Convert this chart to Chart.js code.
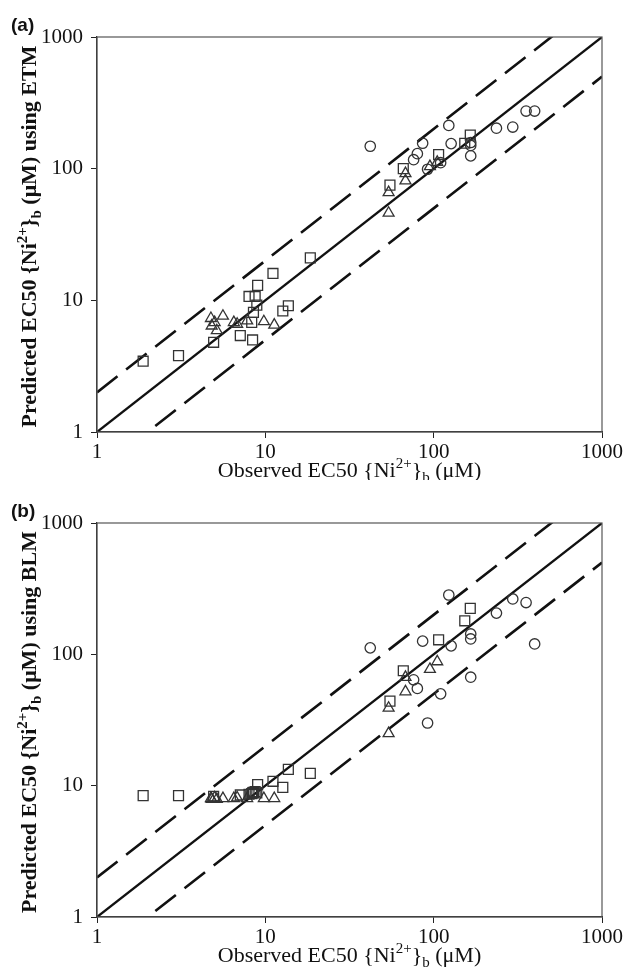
<!DOCTYPE html>
<html lang="en">
<head>
<meta charset="UTF-8">
<title>Observed vs predicted EC50 {Ni2+}b</title>
<script src="https://cdn.jsdelivr.net/npm/chart.js"></script>
<style>
  body { margin: 0; background: #fff; }
  .panel { position: absolute; left: 0; width: 626px; }
  #boxA { top: 0; height: 480px; }
  #boxB { top: 480px; height: 487px; }
</style>
</head>
<body>
<div class="panel" id="boxA"><canvas id="chartA" width="626" height="480"></canvas></div>
<div class="panel" id="boxB"><canvas id="chartB" width="626" height="487"></canvas></div>
<script>
  // axis ticks and the 1:1 / factor-of-2 reference lines
  const tickValues = [1, 10, 100, 1000];
  const lineX = [1, 1000];
  const band = 2;

  // observed EC50 (same for both panels), predicted by ETM (a) and BLM (b)
  const squareObs = [1.88, 3.05, 4.93, 7.1, 8.0, 8.3, 8.4, 8.5, 8.7, 8.9, 9.0, 11.1, 12.7, 13.7, 18.5, 55, 66, 107, 153, 165];
  const squareETM = [3.45, 3.8, 4.8, 5.4, 10.7, 6.8, 5.0, 8.1, 10.7, 9.2, 13, 16, 8.3, 9.1, 21, 75, 100, 128, 156, 180];
  const squareBLM = [8.4, 8.4, 8.3, 8.5, 8.6, 8.7, 8.8, 8.9, 9.0, 8.8, 10.2, 10.8, 9.7, 13.3, 12.4, 44, 75, 129, 180, 224];

  const triangleObs = [4.75, 4.8, 5.0, 5.15, 5.6, 6.5, 6.8, 7.8, 9.8, 11.3, 54, 54, 68, 68, 95, 105];
  const triangleETM = [7.3, 6.4, 6.8, 5.9, 7.6, 6.8, 6.6, 7.0, 6.9, 6.5, 66, 46, 92, 81, 104, 112];
  const triangleBLM = [8.0, 7.9, 8.1, 7.9, 8.0, 8.0, 8.1, 8.0, 8.0, 8.0, 39, 25, 67, 52, 77, 88];

  const circleObs = [42, 76, 80, 86, 92, 110, 123, 127, 166, 166, 166, 236, 295, 354, 398];
  const circleETM = [148, 117, 130, 156, 99, 111, 213, 155, 158, 150, 125, 203, 207, 274, 274];
  const circleBLM = [112, 64, 55, 126, 30, 50, 283, 116, 143, 131, 67, 206, 264, 248, 120];

  const pairs = (xs, ys) => xs.map((x, i) => ({ x: x, y: ys[i] }));
  const SERIF = '"Liberation Serif", "DejaVu Serif", serif';

  function richText(ctx, parts, cx, cy, size, bold, rotate) {
    ctx.save();
    ctx.translate(cx, cy);
    if (rotate) ctx.rotate(-Math.PI / 2);
    const fontOf = p => (bold ? 'bold ' : '') + (p.k ? Math.round(size * 0.7) : size) + 'px ' + SERIF;
    const widths = parts.map(p => { ctx.font = fontOf(p); return ctx.measureText(p.t).width; });
    let x = -widths.reduce((a, b) => a + b, 0) / 2;
    ctx.fillStyle = '#111';
    ctx.textBaseline = 'middle';
    ctx.textAlign = 'left';
    parts.forEach((p, i) => {
      ctx.font = fontOf(p);
      const dy = p.k === 'sup' ? -size * 0.33 : p.k === 'sub' ? size * 0.32 : 0;
      ctx.fillText(p.t, x, dy);
      x += widths[i];
    });
    ctx.restore();
  }

  function makeChart(id, pred, panelLabel, model, padTop, xAxisH) {
    const ctx = document.getElementById(id).getContext('2d');
    const refLine = (k, dash, w) => ({
      type: 'line',
      data: lineX.map(x => ({ x: x, y: x * k })),
      showLine: true, borderColor: '#111', borderWidth: w, borderDash: dash,
      pointRadius: 0, fill: false
    });
    const marker = (data, style, r) => ({
      data: data, pointStyle: style, pointRadius: r, pointHoverRadius: r,
      borderColor: '#333', borderWidth: 1.3, backgroundColor: 'rgba(0,0,0,0)'
    });

    const decorations = {
      id: 'decorations',
      afterDraw(chart) {
        const c = chart.ctx, a = chart.chartArea;
        c.save();
        c.strokeStyle = '#555';
        c.lineWidth = 1.2;
        c.strokeRect(a.left, a.top, a.right - a.left, a.bottom - a.top);
        c.font = 'bold 19px "Liberation Sans", Arial, sans-serif';
        c.fillStyle = '#111';
        c.textBaseline = 'middle';
        c.fillText(panelLabel, 11, a.top - 11);
        c.restore();
        richText(c, [
          { t: 'Predicted EC50 {Ni' }, { t: '2+', k: 'sup' }, { t: '}' }, { t: 'b', k: 'sub' },
          { t: ' (\u03bcM) using ' + model }
        ], 30, (a.top + a.bottom) / 2 + 2, 22, true, true);
        richText(c, [
          { t: 'Observed EC50 {Ni' }, { t: '2+', k: 'sup' }, { t: '}' }, { t: 'b', k: 'sub' },
          { t: ' (\u03bcM)' }
        ], (a.left + a.right) / 2, a.bottom + 39, 22, false, false);
      }
    };

    const axis = (pos, fitter) => ({
      type: 'logarithmic', position: pos, min: 1, max: 1000,
      afterBuildTicks: s => { s.ticks = tickValues.map(v => ({ value: v })); },
      afterFit: fitter,
      ticks: {
        callback: v => String(v), color: '#111', padding: pos === 'left' ? 8 : 2,
        maxRotation: 0, autoSkip: false,
        font: { family: SERIF, size: 21 }
      },
      grid: { drawOnChartArea: false, drawTicks: true, tickLength: 6, color: '#222' },
      border: { display: true, color: '#222', width: 1.2 }
    });

    return new Chart(ctx, {
      type: 'scatter',
      data: {
        datasets: [
          marker(pairs(squareObs, pred.sq), 'rect', 7),
          marker(pairs(triangleObs, pred.tri), 'triangle', 6.3),
          marker(pairs(circleObs, pred.ci), 'circle', 5.2),
          refLine(1, [], 2.3),
          refLine(band, [26, 11], 2.6),
          refLine(1 / band, [26, 11], 2.6)
        ]
      },
      options: {
        responsive: false,
        animation: false,
        layout: { padding: { left: 0, right: 24, top: padTop, bottom: 0 } },
        plugins: { legend: { display: false }, tooltip: { enabled: false } },
        scales: {
          x: axis('bottom', s => { s.height = xAxisH; }),
          y: axis('left', s => { s.width = 97; })
        }
      },
      plugins: [decorations]
    });
  }

  makeChart('chartA', { sq: squareETM, tri: triangleETM, ci: circleETM }, '(a)', 'ETM', 37, 48);
  makeChart('chartB', { sq: squareBLM, tri: triangleBLM, ci: circleBLM }, '(b)', 'BLM', 43, 50);
</script>
</body>
</html>
